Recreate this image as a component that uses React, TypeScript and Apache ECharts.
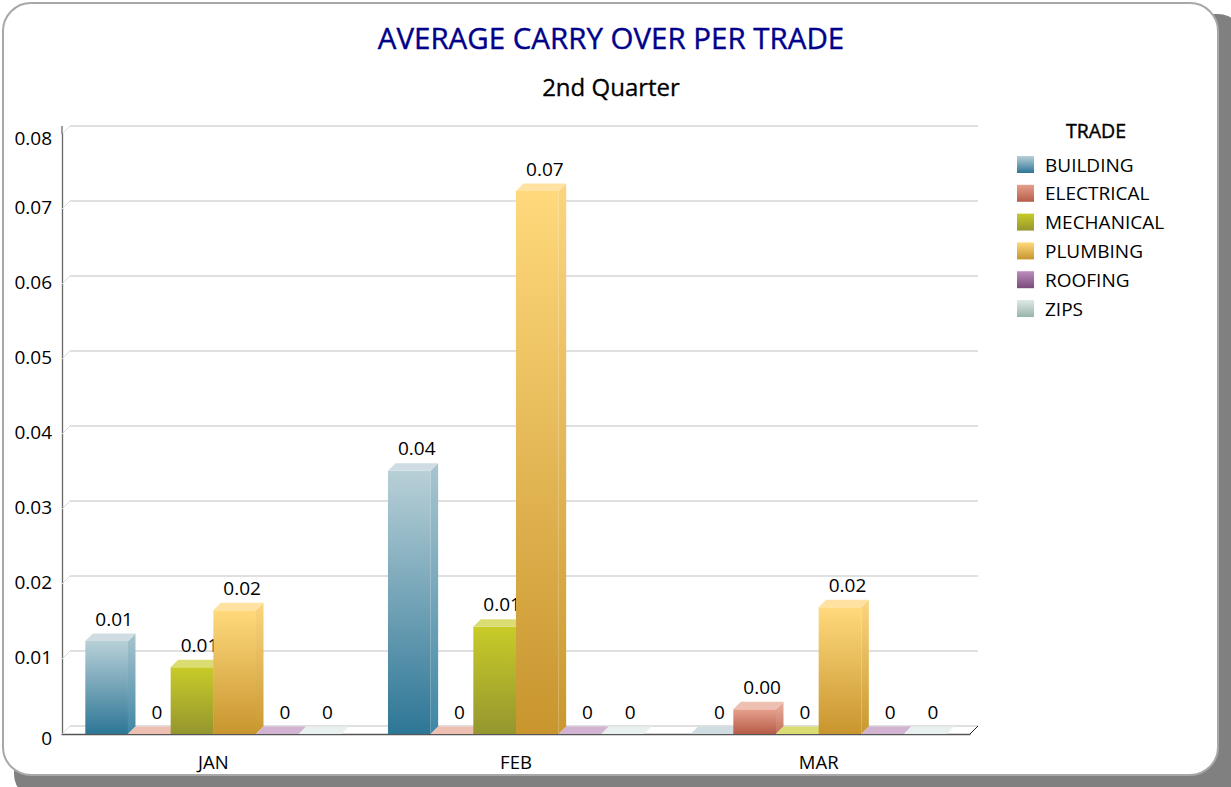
import React, { useEffect, useRef } from "react";
import * as echarts from "echarts";

const categories = ["JAN", "FEB", "MAR"];
const seriesNames = ["BUILDING", "ELECTRICAL", "MECHANICAL", "PLUMBING", "ROOFING", "ZIPS"];
const building = [0.0124, 0.0351, 0];
const electrical = [0, 0, 0.0033];
const mechanical = [0.0089, 0.0143, 0];
const plumbing = [0.0165, 0.0724, 0.0169];
const roofing = [0, 0, 0];
const zips = [0, 0, 0];
const seriesValues = [building, electrical, mechanical, plumbing, roofing, zips];
const yTicks = [0, 0.01, 0.02, 0.03, 0.04, 0.05, 0.06, 0.07, 0.08];

const frontTop = ["#b8d0d7", "#e6a08c", "#c8cb28", "#ffd97c", "#bd8dbd", "#dfeae8"];
const frontBottom = ["#2d7696", "#b65c48", "#95962e", "#c8952e", "#7a4a7a", "#98b4aa"];
const sideTop = ["#a9c5ce", "#e9b09f", "#d0d240", "#fbd57f", "#c9a4c9", "#e4eeec"];
const sideBottom = ["#3f86a5", "#c4705c", "#9fa033", "#c9982f", "#8a5a8a", "#a8c0b8"];
const topColor = ["#cfdde2", "#edc0b2", "#dbdc72", "#ffe2a2", "#d2b4d2", "#e9f1f0"];

const DEPTH = 7.5;
const GROUP = 0.846;
const FONT = '"Open Sans", "Noto Sans", sans-serif';

const vGrad = (a: string, b: string) =>
  new echarts.graphic.LinearGradient(0, 0, 0, 1, [
    { offset: 0, color: a },
    { offset: 1, color: b },
  ]);

const fmt = (v: number) => (v === 0 ? "0" : v.toFixed(2));

function barSeries(i: number) {
  return {
    type: "custom",
    name: seriesNames[i],
    itemStyle: { color: vGrad(frontTop[i], frontBottom[i]) },
    encode: { x: 0, y: 1 },
    data: seriesValues[i].map((v, c) => [c, v]),
    z: 3 + i,
    renderItem: (_p: any, api: any) => {
      const c = api.value(0);
      const v = api.value(1);
      const top = api.coord([c, v]);
      const base = api.coord([c, 0]);
      const band = api.size([1, 0])[0];
      const w = (band * GROUP) / 6;
      const x0 = top[0] - (band * GROUP) / 2 + i * w;
      const x1 = x0 + w;
      const yT = top[1];
      const yB = base[1];
      const children: any[] = [];
      if (v > 0) {
        children.push({
          type: "rect",
          shape: { x: x0, y: yT, width: w, height: yB - yT },
          style: { fill: vGrad(frontTop[i], frontBottom[i]) },
        });
        children.push({
          type: "polygon",
          shape: { points: [[x1, yT], [x1 + DEPTH, yT - DEPTH], [x1 + DEPTH, yB - DEPTH], [x1, yB]] },
          style: { fill: vGrad(sideTop[i], sideBottom[i]) },
        });
      }
      children.push({
        type: "polygon",
        shape: { points: [[x0, yT], [x0 + DEPTH, yT - DEPTH], [x1 + DEPTH, yT - DEPTH], [x1, yT]] },
        style: { fill: topColor[i] },
      });
      children.push({
        type: "text",
        z2: 50,
        style: {
          text: fmt(v),
          x: (x0 + x1) / 2 + DEPTH,
          y: yT - DEPTH - 15,
          align: "center",
          verticalAlign: "middle",
          fill: "#000",
          font: `19px ${FONT}`,
        },
      });
      return { type: "group", children };
    },
  };
}

const wallSeries = {
  type: "custom",
  name: "wall",
  encode: { x: 0, y: 1 },
  data: yTicks.map((t) => [0, t]),
  z: 1,
  silent: true,
  renderItem: (p: any, api: any) => {
    const t = api.value(1);
    const cs = p.coordSys;
    const y = api.coord([0, t])[1];
    const L = cs.x;
    const R = cs.x + cs.width;
    const children: any[] = [
      {
        type: "line",
        shape: { x1: L + 8, y1: y - 8, x2: R + 8, y2: y - 8 },
        style: { stroke: "#d6d6d6", lineWidth: 1.3 },
      },
      {
        type: "line",
        shape: { x1: L, y1: y, x2: L + 8, y2: y - 8 },
        style: { stroke: "#dcdcdc", lineWidth: 1 },
      },
    ];
    if (t === 0) {
      children.push({
        type: "line",
        shape: { x1: R, y1: y, x2: R + 8, y2: y - 8 },
        style: { stroke: "#222", lineWidth: 1 },
      });
    }
    if (t === yTicks[yTicks.length - 1]) {
      children.push({
        type: "line",
        shape: { x1: L, y1: y, x2: L, y2: y - 8 },
        style: { stroke: "#666", lineWidth: 1.3 },
      });
    }
    return { type: "group", children };
  },
};

export default function App() {
  const ref = useRef<HTMLDivElement>(null);
  useEffect(() => {
    const chart = echarts.init(ref.current!, undefined, { renderer: "svg" });
    chart.setOption({
      animation: false,
      backgroundColor: "#ffffff",
      title: [
        {
          text: "AVERAGE CARRY OVER PER TRADE",
          left: 606,
          top: 17,
          textAlign: "center",
          textStyle: { color: "#00008b", fontFamily: FONT, fontSize: 29.5, fontWeight: "normal", textBorderColor: "#00008b", textBorderWidth: 0.4 },
        },
        {
          text: "2nd Quarter",
          left: 606,
          top: 69.5,
          textAlign: "center",
          textStyle: { color: "#000", fontFamily: FONT, fontSize: 24, fontWeight: "normal", textBorderColor: "#000", textBorderWidth: 0.3 },
        },
        {
          text: "TRADE",
          left: 1091,
          top: 115,
          textAlign: "center",
          textStyle: { color: "#000", fontFamily: FONT, fontSize: 19.5, fontWeight: "normal", textBorderColor: "#000", textBorderWidth: 0.4 },
        },
      ],
      legend: {
        orient: "vertical",
        left: 1012,
        top: 150,
        itemWidth: 17,
        itemHeight: 17,
        itemGap: 9.8,
        icon: "rect",
        data: seriesNames,
        selectedMode: false,
        textStyle: { color: "#000", fontFamily: FONT, fontSize: 19, padding: [0, 0, 0, 6] },
      },
      grid: { left: 62, top: 134, width: 908, height: 600, containLabel: false },
      xAxis: {
        type: "category",
        data: categories,
        axisLine: { show: true, lineStyle: { color: "#555", width: 1.3 } },
        axisTick: { show: false },
        axisLabel: { color: "#000", fontFamily: FONT, fontSize: 18.5, margin: 18 },
      },
      yAxis: {
        type: "value",
        min: 0,
        max: 0.08,
        interval: 0.01,
        axisLine: { show: true, lineStyle: { color: "#666", width: 1.3 } },
        axisTick: { show: false },
        splitLine: { show: false },
        axisLabel: {
          color: "#000",
          fontFamily: FONT,
          fontSize: 19,
          margin: 10,
          formatter: (v: number) => {
            const edge = v === 0 || Math.abs(v - 0.08) < 1e-9;
            return `{${edge ? "e" : "n"}|${fmt(v)}}`;
          },
          rich: {
            e: { padding: [8, 0, 0, 0], fontFamily: FONT, fontSize: 19, color: "#000" },
            n: { padding: [0, 0, 4, 0], fontFamily: FONT, fontSize: 19, color: "#000" },
          },
        },
      },
      graphic: [
        {
          type: "rect",
          z: -10,
          silent: true,
          shape: { x: 14, y: 14, width: 1230, height: 786, r: 26 },
          style: { fill: "#808080" },
        },
        {
          type: "rect",
          z: -9,
          silent: true,
          shape: { x: 3, y: 3, width: 1215, height: 772, r: 28 },
          style: { fill: "#ffffff", stroke: "#a8a8a8", lineWidth: 2 },
        },
      ],
      series: [wallSeries, ...seriesNames.map((_, i) => barSeries(i))],
    });
    return () => chart.dispose();
  }, []);
  return <div ref={ref} style={{ position: "absolute", left: 0, top: 0, width: 1231, height: 787 }} />;
}
